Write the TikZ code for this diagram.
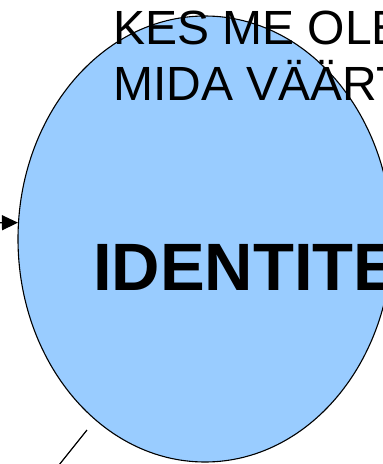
\documentclass[tikz,border=0pt]{standalone}
\usepackage{fontspec}
\setmainfont{Liberation Sans}
\usetikzlibrary{arrows.meta,shapes.geometric,positioning}
\definecolor{identblue}{HTML}{99CCFF}
\begin{document}
\begin{tikzpicture}[x=1pt,y=-1pt,
        bubble/.style={ellipse, draw=black, line width=1.1pt, fill=identblue, minimum width=374pt, minimum height=446pt, inner sep=0pt},
        heading/.style={anchor=base west, inner sep=0pt, font=\fontsize{48}{56}\selectfont, align=left},
        title/.style={anchor=base west, inner sep=0pt, font=\fontsize{67}{70}\selectfont\bfseries},
        link/.style={line width=1.2pt}]
    \useasboundingbox (0,0) rectangle (383,464);
    \clip (0,0) rectangle (383,464);
    \node [bubble] (ident) at (205,239) {};
    \node [heading] (kes) at (113,44) {KES ME OLE};
    \node [heading] (mida) at (113,100) {MIDA VÄÄRT};
    \node [title] (identitet) at (93,290) {IDENTITE};
    \coordinate (from) at (-40,223);
    \draw [link, -{Triangle[length=16pt,width=15pt]}] (from) -- (ident.175);
    \coordinate (lineA) at (55,470);
    \coordinate (lineB) at (87,430);
    \draw [link] (lineA) -- (lineB);
\end{tikzpicture}
\end{document}
